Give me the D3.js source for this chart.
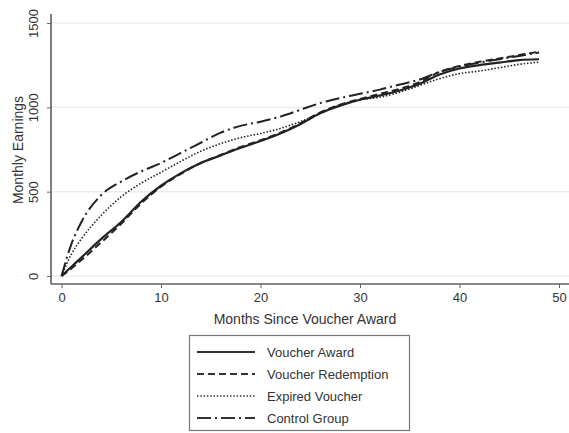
<!DOCTYPE html>
<html>
<head>
<meta charset="utf-8">
<script src="https://cdn.jsdelivr.net/npm/d3@7"></script>
<style>
  body { margin: 0; background: #fff; }
  svg { display: block; font-family: "Liberation Sans", Arial, sans-serif; }
</style>
</head>
<body>
<svg id="chart" width="569" height="433"></svg>
<script>
const months = [0, 1, 2, 4, 6, 8, 10, 12, 14, 16, 18, 20, 22, 24, 26, 28, 30, 32, 34, 36, 38, 40, 42, 44, 46, 48]
const voucherAward = [0, 55, 110, 220, 320, 440, 535, 610, 670, 715, 760, 800, 845, 900, 965, 1010, 1045, 1070, 1100, 1140, 1195, 1230, 1250, 1265, 1280, 1285]
const voucherRedemption = [0, 45, 95, 200, 310, 430, 530, 605, 670, 718, 765, 805, 850, 905, 970, 1015, 1050, 1080, 1110, 1150, 1210, 1245, 1270, 1290, 1310, 1330]
const expiredVoucher = [0, 130, 220, 360, 470, 550, 615, 680, 740, 785, 820, 845, 875, 915, 965, 1015, 1045, 1060, 1090, 1130, 1170, 1200, 1215, 1235, 1255, 1268]
const controlGroup = [0, 190, 320, 480, 560, 620, 670, 730, 790, 850, 890, 915, 945, 985, 1025, 1055, 1080, 1105, 1135, 1165, 1210, 1240, 1265, 1285, 1305, 1325]
const xTicks = [0, 10, 20, 30, 40, 50]
const yTicks = [0, 500, 1000, 1500]

const series = [
  { name: 'Voucher Award', values: voucherAward, dash: null, width: 2.2 },
  { name: 'Voucher Redemption', values: voucherRedemption, dash: '7,4', width: 2 },
  { name: 'Expired Voucher', values: expiredVoucher, dash: '1.5,1.8', width: 1.6 },
  { name: 'Control Group', values: controlGroup, dash: '14,4,2,4', width: 2 }
]

const svg = d3.select('#chart')

const x = d3.scaleLinear().domain([0, 50]).range([61.5, 559])
const y = d3.scaleLinear().domain([0, 1500]).range([276, 23])

// faint gridlines
svg.append('g')
  .selectAll('line')
  .data(yTicks)
  .join('line')
  .attr('x1', 52).attr('x2', 569)
  .attr('y1', d => y(d)).attr('y2', d => y(d))
  .attr('stroke', '#ececec')
  .attr('stroke-width', 1.5)

// axes
const xAxis = svg.append('g')
  .attr('transform', 'translate(0,284)')
  .call(d3.axisBottom(x).tickValues(xTicks).tickFormat(d3.format('d')).tickSize(4).tickPadding(5))
xAxis.select('.domain').attr('d', 'M51,0H569').attr('stroke', '#888').attr('stroke-width', 2)
xAxis.selectAll('.tick line').attr('stroke', '#666')
xAxis.selectAll('text').attr('font-size', 13).attr('fill', '#333').attr('font-family', 'Liberation Sans, Arial, sans-serif')

const yAxis = svg.append('g')
  .attr('transform', 'translate(51,0)')
  .call(d3.axisLeft(y).tickValues(yTicks).tickFormat(d3.format('d')).tickSize(4).tickPadding(0))
yAxis.select('.domain').attr('d', 'M0,14V284').attr('stroke', '#555').attr('stroke-width', 1.5)
yAxis.selectAll('.tick line').attr('stroke', '#666')
yAxis.selectAll('text')
  .attr('font-size', 13)
  .attr('fill', '#333')
  .attr('font-family', 'Liberation Sans, Arial, sans-serif')
  .attr('x', 0).attr('dy', 0)
  .attr('text-anchor', 'middle')
  .attr('transform', 'translate(-13,0) rotate(-90)')

// axis titles
svg.append('text')
  .attr('x', 305).attr('y', 324)
  .attr('text-anchor', 'middle')
  .attr('font-size', 14)
  .attr('fill', '#333')
  .text('Months Since Voucher Award')

svg.append('text')
  .attr('transform', 'translate(23,150) rotate(-90)')
  .attr('text-anchor', 'middle')
  .attr('font-size', 14)
  .attr('fill', '#333')
  .text('Monthly Earnings')

// lines
const line = d3.line()
  .x(d => x(d[0]))
  .y(d => y(d[1]))
  .curve(d3.curveMonotoneX)

svg.append('g')
  .selectAll('path')
  .data(series)
  .join('path')
  .attr('d', s => line(months.map((m, i) => [m, s.values[i]])))
  .attr('fill', 'none')
  .attr('stroke', '#222')
  .attr('stroke-width', s => s.width)
  .attr('stroke-dasharray', s => s.dash)

// legend
const legend = svg.append('g')
legend.append('rect')
  .attr('x', 189.5).attr('y', 335.5)
  .attr('width', 220).attr('height', 95)
  .attr('fill', '#fff')
  .attr('stroke', '#777')
  .attr('stroke-width', 1.2)

const rowY = d3.scalePoint().domain(series.map(s => s.name)).range([352, 418])

const item = legend.selectAll('.item')
  .data(series)
  .join('g')
  .attr('class', 'item')
  .attr('transform', s => `translate(0,${rowY(s.name)})`)

item.append('line')
  .attr('x1', 197).attr('x2', 255)
  .attr('stroke', '#333')
  .attr('stroke-width', s => s.width)
  .attr('stroke-dasharray', s => s.dash)

item.append('text')
  .attr('x', 267).attr('dy', '0.35em')
  .attr('font-size', 13)
  .attr('fill', '#333')
  .text(s => s.name)
</script>
</body>
</html>
